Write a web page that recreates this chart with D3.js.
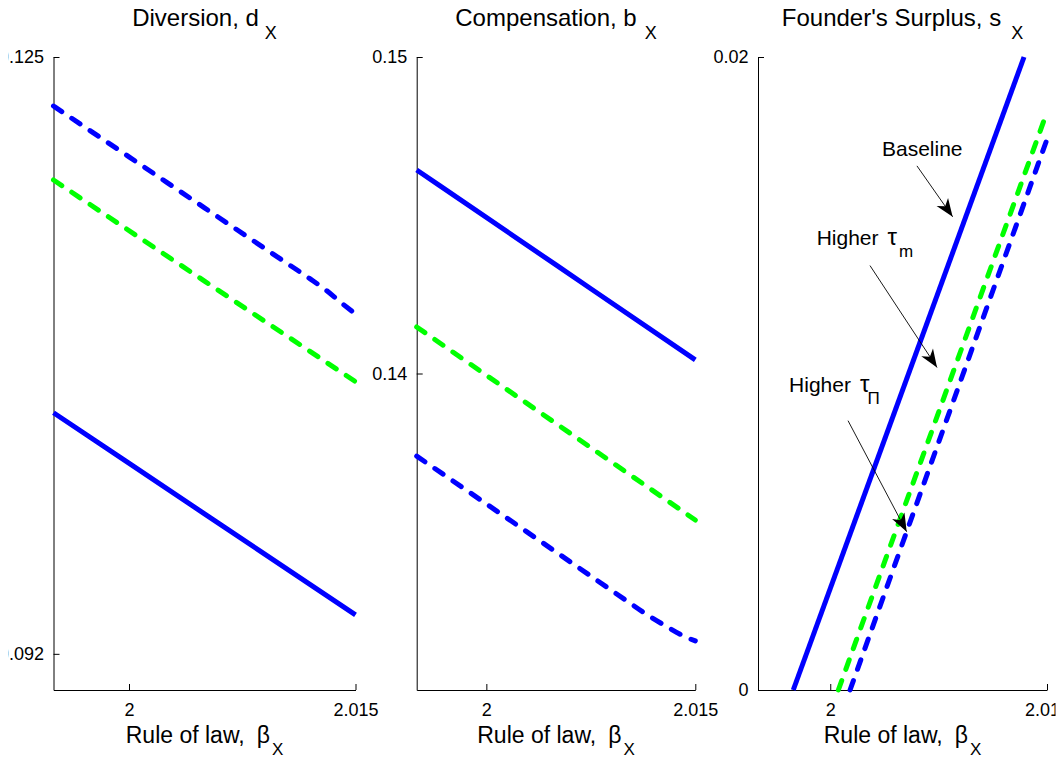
<!DOCTYPE html>
<html>
<head>
<meta charset="utf-8">
<script src="https://cdn.jsdelivr.net/npm/d3@7"></script>
<style>
  body { margin: 0; background: #fff; }
  svg { display: block; }
  text { font-family: "Liberation Sans", Arial, Helvetica, sans-serif; fill: #000; }
</style>
</head>
<body>
<svg id="fig" width="1062" height="764"></svg>
<script>
// ---- data -------------------------------------------------------------
// Rule of law (beta_X) grid points and outcomes for each scenario.

// Diversion, d_X
const divBaseBeta  = [1.995, 2.005, 2.015];
const divBase      = [0.10533, 0.09974, 0.09415];
const divTauMBeta  = [1.995, 2.005, 2.015];
const divTauM      = [0.11820, 0.11261, 0.10705];
const divTauPiBeta = [1.995, 2.0, 2.005, 2.01, 2.012, 2.013, 2.014, 2.015];
const divTauPi     = [0.12229, 0.11948, 0.11666, 0.11385, 0.11273, 0.11214, 0.11145, 0.11079];

// Compensation, b_X
const cmpBaseBeta  = [1.995, 2.005, 2.015];
const cmpBase      = [0.14643, 0.14343, 0.14043];
const cmpTauMBeta  = [1.995, 2.005, 2.015];
const cmpTauM      = [0.14147, 0.13842, 0.13537];
const cmpTauPiBeta = [1.995, 2.0, 2.005, 2.01, 2.0115, 2.013, 2.014, 2.015];
const cmpTauPi     = [0.13739, 0.13588, 0.13436, 0.13284, 0.13239, 0.13199, 0.13174, 0.13155];

// Founder's surplus, s_X
const surBaseBeta  = [1.99744, 2.01341];
const surBase      = [0, 0.02];
const surTauMBeta  = [2.00056, 2.015];
const surTauM      = [0, 0.01826];
const surTauPiBeta = [2.00137, 2.015];
const surTauPi     = [0, 0.0174];

// Axis ticks
const betaTicks  = [2, 2.015];
const betaLabels = ["2", "2.015"];
const divTicks  = [0.092, 0.125];
const divLabels = ["0.092", "0.125"];
const cmpTicks  = [0.14, 0.15];
const cmpLabels = ["0.14", "0.15"];
const surTicks  = [0, 0.02];
const surLabels = ["0", "0.02"];

// ---- styles ----------------------------------------------------------
const BLUE = "#0000ff", GREEN = "#00ff00";
const LW = 5;
const DASH = "10,12";

const zip = (xs, ys) => xs.map((v, i) => [v, ys[i]]);

const panels = [
  {
    title: "Diversion, d", titleDx: 6,
    xRange: [53.5, 355.5], xDomain: [1.995, 2.015], yDomain: [0.09, 0.125],
    yTicks: divTicks, yLabels: divLabels,
    series: [
      { pts: zip(divTauPiBeta, divTauPi), color: BLUE, dash: DASH },
      { pts: zip(divTauMBeta, divTauM), color: GREEN, dash: DASH },
      { pts: zip(divBaseBeta, divBase), color: BLUE, dash: null }
    ]
  },
  {
    title: "Compensation, b", titleDx: 8,
    xRange: [416.7, 695.3], xDomain: [1.995, 2.015], yDomain: [0.13, 0.15],
    yTicks: cmpTicks, yLabels: cmpLabels,
    series: [
      { pts: zip(cmpBaseBeta, cmpBase), color: BLUE, dash: null },
      { pts: zip(cmpTauMBeta, cmpTauM), color: GREEN, dash: DASH },
      { pts: zip(cmpTauPiBeta, cmpTauPi), color: BLUE, dash: DASH }
    ]
  },
  {
    title: "Founder's Surplus, s", titleDx: 10,
    xRange: [758, 1047], xDomain: [1.995, 2.015], yDomain: [0, 0.02],
    yTicks: surTicks, yLabels: surLabels,
    series: [
      { pts: zip(surBaseBeta, surBase), color: BLUE, dash: null },
      { pts: zip(surTauMBeta, surTauM), color: GREEN, dash: DASH },
      { pts: zip(surTauPiBeta, surTauPi), color: BLUE, dash: DASH }
    ]
  }
];

// Labelled arrows in the surplus panel (data coordinates)
const notes = [
  { text: "Baseline", sym: null, sub: null, at: [2.00358, 0.01687], from: [2.00600, 0.01656], to: [2.00847, 0.01495] },
  { text: "Higher", sym: "\u03c4", sub: "m", at: [1.99906, 0.01406], from: [2.00275, 0.01341], to: [2.00739, 0.01019] },
  { text: "Higher", sym: "\u03c4", sub: "\u03a0", at: [1.99715, 0.00942], from: [2.00123, 0.00851], to: [2.00529, 0.00500] }
];

// ---- drawing ---------------------------------------------------------
const svg = d3.select("#fig");
const Y0 = 690, Y1 = 57;

const defs = svg.append("defs");
defs.append("marker")
  .attr("id", "head")
  .attr("viewBox", "-20 -8 21 16")
  .attr("refX", 0).attr("refY", 0)
  .attr("markerWidth", 21).attr("markerHeight", 16)
  .attr("markerUnits", "userSpaceOnUse")
  .attr("orient", "auto")
  .append("path")
  .attr("d", "M0,0 L-18,-7 L-13,0 L-18,7 Z")
  .attr("fill", "#000");

// printable figure area; anything beyond it is trimmed
defs.append("clipPath").attr("id", "page")
  .append("rect").attr("x", 8.5).attr("y", 0).attr("width", 1047).attr("height", 764);

const fig = svg.append("g").attr("clip-path", "url(#page)");
const scales = [];

panels.forEach(p => {
  const g = fig.append("g");
  const x = d3.scaleLinear().domain(p.xDomain).range(p.xRange);
  const y = d3.scaleLinear().domain(p.yDomain).range([Y0, Y1]);
  scales.push({ x, y });

  // axes with inward ticks
  const ax = g.append("g").attr("transform", `translate(0,${Y0})`)
    .call(d3.axisBottom(x).tickValues(betaTicks)
      .tickFormat((d, i) => betaLabels[i])
      .tickSizeInner(-6).tickSizeOuter(0).tickPadding(13.5));
  const ay = g.append("g").attr("transform", `translate(${p.xRange[0]},0)`)
    .call(d3.axisLeft(y).tickValues(p.yTicks)
      .tickFormat((d, i) => p.yLabels[i])
      .tickSizeInner(-6).tickSizeOuter(0).tickPadding(9.5));
  [ax, ay].forEach(a => {
    a.attr("font-size", null).attr("font-family", null);
    a.selectAll("path, line").attr("stroke", "#000").attr("stroke-width", 1);
    a.selectAll("text").style("font-size", "18px");
  });

  // series
  const line = d3.line().x(d => x(d[0])).y(d => y(d[1])).curve(d3.curveMonotoneX);
  p.series.forEach(s => {
    g.append("path")
      .attr("d", line(s.pts))
      .attr("fill", "none")
      .attr("stroke", s.color)
      .attr("stroke-width", LW)
      .attr("stroke-linecap", s.dash ? "round" : "butt")
      .attr("stroke-dasharray", s.dash);
  });

  const cx = (p.xRange[0] + p.xRange[1]) / 2;

  // title with subscript
  const t = g.append("text").attr("x", cx).attr("y", 26)
    .attr("text-anchor", "middle").style("font-size", "24px");
  t.append("tspan").text(p.title);
  t.append("tspan").attr("dx", p.titleDx).attr("dy", 13).style("font-size", "18px").text("X");

  // x-axis label
  const xl = g.append("text").attr("x", cx).attr("y", 743)
    .attr("text-anchor", "middle").style("font-size", "23px");
  xl.append("tspan").text("Rule of law,");
  xl.append("tspan").attr("dx", 12).text("\u03b2");
  xl.append("tspan").attr("dx", 2).attr("dy", 12).style("font-size", "17px").text("X");
});

// annotations in the third panel
const { x: xs, y: ys } = scales[2];
notes.forEach(n => {
  fig.append("line")
    .attr("x1", xs(n.from[0])).attr("y1", ys(n.from[1]))
    .attr("x2", xs(n.to[0])).attr("y2", ys(n.to[1]))
    .attr("stroke", "#000").attr("stroke-width", 0.9)
    .attr("marker-end", "url(#head)");
  const t = fig.append("text").attr("x", xs(n.at[0])).attr("y", ys(n.at[1]))
    .style("font-size", "21px");
  t.append("tspan").text(n.text);
  if (n.sym) {
    t.append("tspan").attr("dx", 9).style("font-size", "24px").text(n.sym);
    t.append("tspan").attr("dx", n.sub === "m" ? 2 : -2).attr("dy", 12)
      .style("font-size", "17px").text(n.sub);
  }
});
</script>
</body>
</html>
